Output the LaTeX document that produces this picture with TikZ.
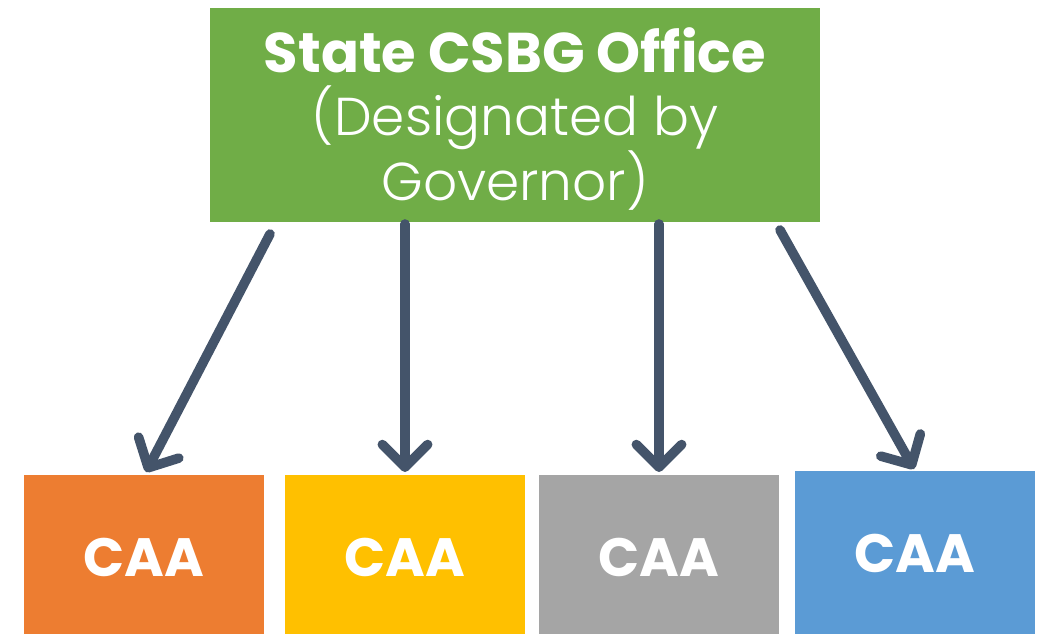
\documentclass[tikz,border=0pt]{standalone}
\usepackage{fontspec}
\setmainfont{Poppins}
\newfontfamily\lightface{Poppins Light}
\usetikzlibrary{arrows.meta}
\definecolor{officegreen}{HTML}{70AD47}
\definecolor{caaorange}{HTML}{ED7D31}
\definecolor{caayellow}{HTML}{FFC000}
\definecolor{caagray}{HTML}{A5A5A5}
\definecolor{caablue}{HTML}{5B9BD5}
\definecolor{linkslate}{HTML}{44546A}
\tikzset{
  caatext/.style={text=white, font=\fontsize{40.5}{46}\selectfont\bfseries},
  link/.style={draw=linkslate, line width=7.2pt, line cap=round,
    -{Straight Barb[length=17pt, width=34pt, line width=7.2pt, round]}},
}
\begin{document}
\begin{tikzpicture}[x=0.75pt, y=-0.75pt]
  \useasboundingbox (0,0) rectangle (1046,634);
  % top office box
  \fill[officegreen] (210,8) rectangle (820,222);
  \node[inner sep=0pt, align=center, text=white, font=\fontsize{40}{47}\selectfont]
    (office) at (515,119) {{\fontsize{42}{47}\selectfont\bfseries State CSBG Office}\\{\lightface(Designated by}\\{\lightface Governor)}};
  % agency boxes
  \fill[caaorange] (24,475) rectangle (264,634);
  \fill[caayellow] (285,475) rectangle (525,634);
  \fill[caagray]   (539,475) rectangle (779,634);
  \fill[caablue]   (795,471) rectangle (1035,634);
  \node[caatext] (caa1) at (144,557) {CAA};
  \node[caatext] (caa2) at (405,557) {CAA};
  \node[caatext] (caa3) at (659,557) {CAA};
  \node[caatext] (caa4) at (915,553) {CAA};
  % connector end points
  \coordinate (s1) at (270,234);
  \coordinate (e1) at (146,472);
  \coordinate (s2) at (405,224);
  \coordinate (e2) at (405,472);
  \coordinate (s3) at (659,224);
  \coordinate (e3) at (659,472);
  \coordinate (s4) at (780,230);
  \coordinate (e4) at (914,469);
  \draw[link] (s1) -- (e1);
  \draw[link] (s2) -- (e2);
  \draw[link] (s3) -- (e3);
  \draw[link] (s4) -- (e4);
\end{tikzpicture}
\end{document}
